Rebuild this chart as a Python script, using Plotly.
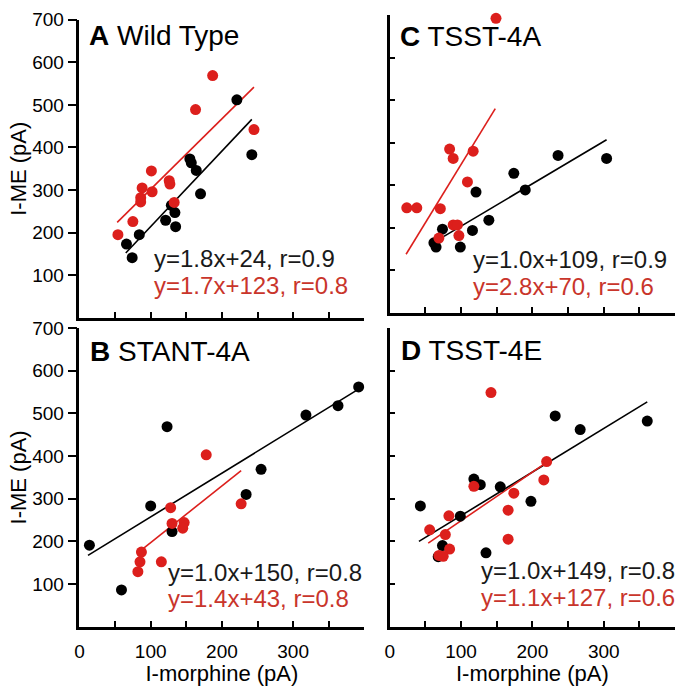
import plotly.graph_objects as go

# ---------------- data ----------------
# Panel A - Wild Type
a_black_x = [221, 242, 155, 157, 164, 170, 129, 134, 121, 135, 84, 66, 74]
a_black_y = [512, 383, 373, 364, 346, 291, 264, 247, 229, 214, 195, 173, 141]
a_red_x = [187, 163, 245, 101, 126, 127, 88, 102, 86, 86, 133, 75, 54]
a_red_y = [569, 489, 442, 345, 322, 314, 305, 296, 282, 272, 271, 226, 195]
a_black_fit_x = [65, 242]
a_black_fit_y = [152, 466]
a_red_fit_x = [53, 245]
a_red_fit_y = [224, 542]

# Panel C - TSST-4A
c_black_x = [236, 304, 174, 190, 121, 139, 74, 116, 62, 65, 99]
c_black_y = [370, 363, 328, 289, 284, 218, 197, 194, 165, 155, 155]
c_red_x = [149, 84, 89, 117, 109, 24, 38, 71, 89, 95, 97, 69]
c_red_y = [692, 385, 363, 380, 308, 247, 247, 245, 207, 207, 182, 176]
c_black_fit_x = [76, 304]
c_black_fit_y = [180, 407]
c_red_fit_x = [23, 148]
c_red_fit_y = [138, 480]

# Panel B - STANT-4A
b_black_x = [14, 59, 100, 123, 130, 234, 255, 318, 363, 392]
b_black_y = [191, 86, 283, 469, 223, 310, 369, 496, 518, 562]
b_red_x = [178, 227, 128, 130, 147, 145, 87, 85, 115, 82]
b_red_y = [403, 288, 279, 242, 244, 231, 175, 152, 152, 129]
b_black_fit_x = [12, 393]
b_black_fit_y = [167, 558]
b_red_fit_x = [85, 227]
b_red_fit_y = [177, 366]

# Panel D - TSST-4E
d_black_x = [232, 267, 361, 118, 127, 155, 198, 43, 99, 74, 68, 135]
d_black_y = [494, 462, 482, 346, 333, 328, 294, 283, 259, 190, 164, 173]
d_red_x = [142, 220, 216, 118, 174, 166, 83, 56, 78, 166, 84, 69, 75]
d_red_y = [549, 387, 344, 329, 313, 273, 260, 227, 216, 205, 182, 167, 165]
d_black_fit_x = [41, 361]
d_black_fit_y = [200, 527]
d_red_fit_x = [54, 220]
d_red_fit_y = [196, 385]

panel_titles = ["<b>A</b> Wild Type", "<b>C</b> TSST-4A", "<b>B</b> STANT-4A", "<b>D</b> TSST-4E"]
eq_black = ["y=1.8x+24, r=0.9", "y=1.0x+109, r=0.9", "y=1.0x+150, r=0.8", "y=1.0x+149, r=0.8"]
eq_red = ["y=1.7x+123, r=0.8", "y=2.8x+70, r=0.6", "y=1.4x+43, r=0.8", "y=1.1x+127, r=0.6"]

x_tickvals = [0, 50, 100, 150, 200, 250, 300, 350, 400]
x_label_vals = [0, 100, 200, 300]
x_label_text = ["0", "100", "200", "300"]
y_tickvals = [100, 200, 300, 400, 500, 600, 700]
x_title = "I-morphine (pA)"
y_title = "I-ME (pA)"

# ---------------- styling ----------------
W = H = 686
FONT = "Liberation Sans, Arial, Helvetica, sans-serif"
BLACK = "#000000"
RED_PT = "#dc1f1c"
RED_TXT = "#c9352b"


def px(v):
    return v / W


def py(v):
    return 1 - v / H


# panel pixel boxes: (left, right, top, bottom)
boxes = {
    "A": (75, 362, 10, 312.7),
    "C": (387.5, 675, 5, 308),
    "B": (75, 362, 323.3, 626.7),
    "D": (387.5, 675, 323.3, 626.7),
}
order = ["A", "C", "B", "D"]
data = {
    "A": (a_black_x, a_black_y, a_red_x, a_red_y, a_black_fit_x, a_black_fit_y, a_red_fit_x, a_red_fit_y),
    "C": (c_black_x, c_black_y, c_red_x, c_red_y, c_black_fit_x, c_black_fit_y, c_red_fit_x, c_red_fit_y),
    "B": (b_black_x, b_black_y, b_red_x, b_red_y, b_black_fit_x, b_black_fit_y, b_red_fit_x, b_red_fit_y),
    "D": (d_black_x, d_black_y, d_red_x, d_red_y, d_black_fit_x, d_black_fit_y, d_red_fit_x, d_red_fit_y),
}
eq_pos = {"A": (148, 253), "C": (469, 253.5), "B": (162, 571.5), "D": (477, 570)}
title_pos = {"A": (83, 26), "C": (395.5, 26.5), "B": (84, 347), "D": (397, 346.5)}

fig = go.Figure()
layout = dict(
    width=W, height=H, margin=dict(l=0, r=0, t=0, b=0),
    paper_bgcolor="white", plot_bgcolor="white", showlegend=False,
    font=dict(family=FONT, color=BLACK),
)
annotations = []
label_axis_num = 5

for i, key in enumerate(order):
    n = "" if i == 0 else str(i + 1)
    xa, ya = "x" + n, "y" + n
    bx, by, rx, ry, bfx, bfy, rfx, rfy = data[key]
    fig.add_trace(go.Scatter(x=bfx, y=bfy, mode="lines", xaxis=xa, yaxis=ya,
                             line=dict(color=BLACK, width=1.6), hoverinfo="skip"))
    fig.add_trace(go.Scatter(x=rfx, y=rfy, mode="lines", xaxis=xa, yaxis=ya,
                             line=dict(color=RED_PT, width=1.6), hoverinfo="skip"))
    fig.add_trace(go.Scatter(x=bx, y=by, mode="markers", xaxis=xa, yaxis=ya, cliponaxis=False,
                             marker=dict(color=BLACK, size=11, line=dict(width=0))))
    fig.add_trace(go.Scatter(x=rx, y=ry, mode="markers", xaxis=xa, yaxis=ya, cliponaxis=False,
                             marker=dict(color=RED_PT, size=11, line=dict(width=0))))

    l, r, t, b = boxes[key]
    left_col = key in ("A", "B")
    bottom_row = key in ("B", "D")
    layout["xaxis" + n] = dict(
        domain=[px(l), px(r)], anchor=ya, range=[0, 400],
        showline=True, linecolor=BLACK, linewidth=2.5,
        showgrid=False, zeroline=False,
        ticks="inside", ticklen=6, tickwidth=2, tickcolor=BLACK,
        tickvals=x_tickvals, showticklabels=False,
    )
    if bottom_row:
        # overlay axis carrying the tick labels and title, pushed down by invisible outside ticks
        m = str(label_axis_num)
        label_axis_num += 1
        layout["xaxis" + m] = dict(
            overlaying=xa, anchor=ya, range=[0, 400], side="bottom",
            showline=False, showgrid=False, zeroline=False,
            ticks="outside", ticklen=8, tickcolor="rgba(0,0,0,0)",
            tickvals=x_label_vals, ticktext=x_label_text,
            tickfont=dict(size=19, family=FONT, color=BLACK),
            title=dict(text=x_title, font=dict(size=22, family=FONT, color=BLACK), standoff=8),
        )
        fig.add_trace(go.Scatter(x=[], y=[], mode="markers", xaxis="x" + m, yaxis=ya,
                                 hoverinfo="skip", showlegend=False))
    layout["yaxis" + n] = dict(
        domain=[py(b), py(t)], anchor=xa, range=[0, 700],
        showline=True, linecolor=BLACK, linewidth=2.5,
        showgrid=False, zeroline=False,
        ticks="outside" if left_col else "inside", ticklen=9 if left_col else 6,
        tickwidth=2, tickcolor=BLACK,
        tickvals=y_tickvals, showticklabels=left_col,
        tickfont=dict(size=19, family=FONT, color=BLACK),
        title=dict(text=y_title if left_col else "", font=dict(size=22, family=FONT, color=BLACK), standoff=0),
    )

    tx, ty = title_pos[key]
    annotations.append(dict(xref="paper", yref="paper", x=px(tx), y=py(ty), xanchor="left", yanchor="middle",
                            text=panel_titles[i], showarrow=False,
                            font=dict(size=28, family=FONT, color=BLACK)))
    ex, ey = eq_pos[key]
    annotations.append(dict(xref="paper", yref="paper", x=px(ex), y=py(ey), xanchor="left", yanchor="middle",
                            text=eq_black[i], showarrow=False,
                            font=dict(size=24, family=FONT, color="#1a1a1a")))
    annotations.append(dict(xref="paper", yref="paper", x=px(ex), y=py(ey + 27), xanchor="left", yanchor="middle",
                            text=eq_red[i], showarrow=False,
                            font=dict(size=24, family=FONT, color=RED_TXT)))

layout["annotations"] = annotations
fig.update_layout(**layout)
fig.write_html("out.html", config={"displayModeBar": False},
               post_script="document.body.style.margin='0px';document.body.style.padding='0px';")
